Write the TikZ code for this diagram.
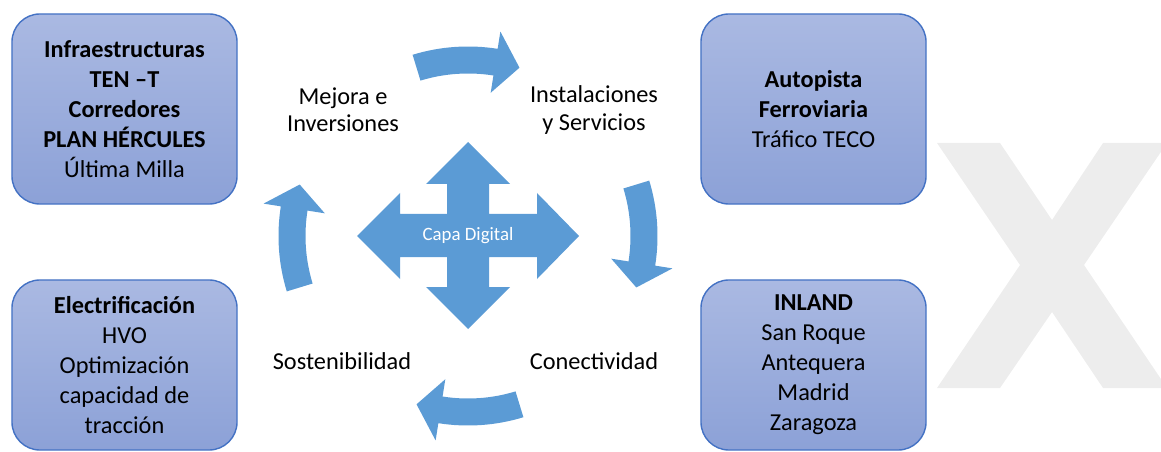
\documentclass[tikz,border=0pt]{standalone}
\usepackage{fontspec}
\setmainfont{Carlito}
\usetikzlibrary{positioning,calc}
\definecolor{boxtop}{RGB}{170,185,226}
\definecolor{boxbot}{RGB}{140,161,215}
\definecolor{boxline}{RGB}{68,114,196}
\definecolor{arrblue}{RGB}{91,155,213}
\definecolor{xgray}{RGB}{237,237,237}

\begin{document}
\begin{tikzpicture}[x=0.025cm,y=-0.025cm,
	bloque/.style={draw=boxline, line width=1pt, rounded corners=0.7cm,
		top color=boxtop, bottom color=boxbot, minimum width=5.625cm,
		align=center, inner sep=0pt, font=\fontsize{17.3}{21.3}\selectfont},
	etiqueta/.style={align=center, font=\fontsize{17.3}{19.5}\selectfont}]

		\useasboundingbox (0,0) rectangle (1161,452);

		% Big X in the background
		\begin{scope}
			\clip (0,0) rectangle (1161,452);
			\fill[xgray] (937,143) -- (1000,143) -- (1052,220) -- (1103,143) -- (1167,143)
				-- (1084,265) -- (1167,388) -- (1103,388) -- (1052,312) -- (1000,388)
				-- (937,388) -- (1020,265) -- cycle;
		\end{scope}

		% Boxes
		\node[bloque, minimum height=4.75cm] (infra) at (124.5,109)
			{\textbf{Infraestructuras}\\\textbf{TEN –T}\\\textbf{Corredores}\\\textbf{PLAN HÉRCULES}\\Última Milla};
		\node[bloque, minimum height=4.25cm] (electr) at (124.5,365)
			{\textbf{Electrificación}\\HVO\\Optimización\\capacidad de\\tracción};
		\node[bloque, minimum height=4.75cm] (autop) at (813.5,109)
			{\textbf{Autopista}\\\textbf{Ferroviaria}\\Tráfico TECO};
		\node[bloque, minimum height=4.25cm] (inland) at (813.5,365)
			{\textbf{INLAND}\\San Roque\\Antequera\\Madrid\\Zaragoza};

		% Four-way arrow
		\coordinate (cen) at (468,236);
		\fill[arrblue] (468,142) -- (510,184) -- (489,184) -- (489,214) -- (537,214) -- (537,193)
			-- (579,236) -- (537,279) -- (537,257) -- (489,257) -- (489,287) -- (510,287)
			-- (468,329) -- (426,287) -- (447,287) -- (447,257) -- (400,257) -- (400,279)
			-- (357,236) -- (400,193) -- (400,214) -- (447,214) -- (447,184) -- (426,184) -- cycle;
		\node[text=white, font=\fontsize{13.4}{15}\selectfont] (capa) at (cen) {Capa Digital};

		% Curved arrows round the cycle
		\foreach \a in {-107,-17,73,163} {
			\fill[arrblue] ($(cen)+(\a:189.5)$) arc[start angle=\a, end angle=\a+26, radius=189.5]
				-- ($(cen)+(\a+26:207)$) -- ($(cen)+(\a+34:176)$) -- ($(cen)+(\a+26:145)$)
				-- ($(cen)+(\a+26:162.5)$) arc[start angle=\a+26, end angle=\a, radius=162.5] -- cycle;
		}

		% Labels
		\node[etiqueta] (mejora) at (343,110) {Mejora e\\Inversiones};
		\node[etiqueta] (instal) at (594,110) {Instalaciones\\y Servicios};
		\node[etiqueta] (sosten) at (342,361) {Sostenibilidad};
		\node[etiqueta] (conect) at (594,361) {Conectividad};

	\end{tikzpicture}
\end{document}
